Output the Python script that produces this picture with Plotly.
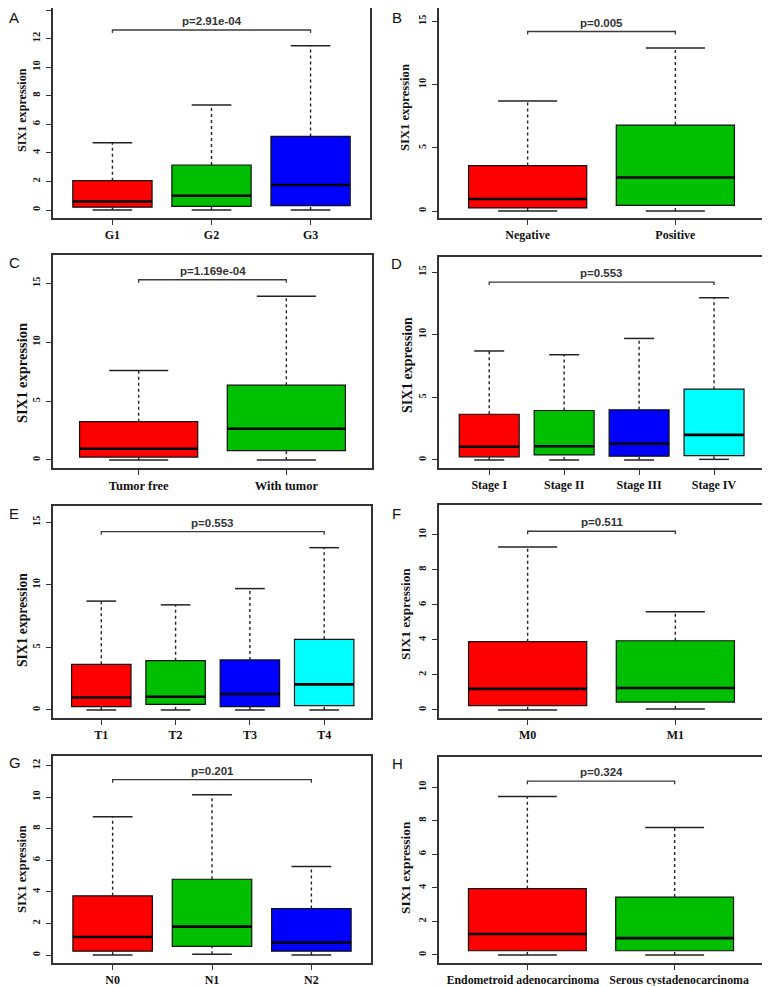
import plotly.graph_objects as go

# ---------------- data ----------------
A_cats = ["G1", "G2", "G3"]
A_lower = [0.0, 0.0, 0.0]
A_q1 = [0.2, 0.25, 0.3]
A_median = [0.6, 1.0, 1.75]
A_q3 = [2.05, 3.15, 5.15]
A_upper = [4.7, 7.35, 11.5]
A_pvalue = "p=2.91e-04"
A_bracket = 12.6
A_yticks = [0, 2, 4, 6, 8, 10, 12, 14]

B_cats = ["Negative", "Positive"]
B_lower = [0.0, 0.0]
B_q1 = [0.25, 0.45]
B_median = [0.95, 2.65]
B_q3 = [3.6, 6.8]
B_upper = [8.7, 12.9]
B_pvalue = "p=0.005"
B_bracket = 14.2
B_yticks = [0, 5, 10, 15]

C_cats = ["Tumor free", "With tumor"]
C_lower = [0.0, 0.0]
C_q1 = [0.25, 0.8]
C_median = [0.95, 2.65]
C_q3 = [3.25, 6.35]
C_upper = [7.6, 13.9]
C_pvalue = "p=1.169e-04"
C_bracket = 15.3
C_yticks = [0, 5, 10, 15]

D_cats = ["Stage I", "Stage II", "Stage III", "Stage IV"]
D_lower = [0.0, 0.0, 0.0, 0.05]
D_q1 = [0.25, 0.4, 0.3, 0.35]
D_median = [1.05, 1.1, 1.3, 2.0]
D_q3 = [3.65, 3.95, 4.0, 5.65]
D_upper = [8.7, 8.4, 9.7, 12.95]
D_pvalue = "p=0.553"
D_bracket = 14.2
D_yticks = [0, 5, 10, 15]

E_cats = ["T1", "T2", "T3", "T4"]
E_lower = [0.0, 0.0, 0.0, 0.0]
E_q1 = [0.27, 0.45, 0.27, 0.35]
E_median = [1.0, 1.06, 1.28, 2.05]
E_q3 = [3.65, 3.94, 4.0, 5.65]
E_upper = [8.7, 8.4, 9.7, 12.97]
E_pvalue = "p=0.553"
E_bracket = 14.25
E_yticks = [0, 5, 10, 15]

F_cats = ["M0", "M1"]
F_lower = [0.0, 0.05]
F_q1 = [0.25, 0.45]
F_median = [1.2, 1.25]
F_q3 = [3.9, 3.95]
F_upper = [9.3, 5.6]
F_pvalue = "p=0.511"
F_bracket = 10.2
F_yticks = [0, 2, 4, 6, 8, 10]

G_cats = ["N0", "N1", "N2"]
G_lower = [0.0, 0.05, 0.0]
G_q1 = [0.25, 0.55, 0.25]
G_median = [1.15, 1.8, 0.8]
G_q3 = [3.75, 4.8, 2.95]
G_upper = [8.75, 10.15, 5.6]
G_pvalue = "p=0.201"
G_bracket = 11.1
G_yticks = [0, 2, 4, 6, 8, 10, 12]

H_cats = ["Endometroid adenocarcinoma", "Serous cystadenocarcinoma"]
H_lower = [0.0, 0.0]
H_q1 = [0.25, 0.25]
H_median = [1.25, 1.0]
H_q3 = [3.95, 3.45]
H_upper = [9.45, 7.6]
H_pvalue = "p=0.324"
H_bracket = 10.36
H_yticks = [0, 2, 4, 6, 8, 10]

Y_TITLE = "SIX1 expression"

# ---------------- styling / layout ----------------
# The page body has an 8px default margin, so the figure is made 8px smaller
# and every reference pixel position is shifted by that offset.
PAGE_W, PAGE_H = 770, 986
OFF = 8
W, H = PAGE_W - OFF, PAGE_H - OFF
RED, GREEN, BLUE, CYAN = "#FF0000", "#00BE00", "#0000FF", "#00FFFF"

panels = [
    dict(key="A", cats=A_cats, lo=A_lower, q1=A_q1, med=A_median, q3=A_q3, up=A_upper,
         p=A_pvalue, br=A_bracket, yt=A_yticks, colors=[RED, GREEN, BLUE],
         frame=(53, 370, 8, 218), yr=[-0.56, 14.14], xr=[-0.6, 2.6],
         letter=(7, 12), title=(22, 110, 12.1)),
    dict(key="B", cats=B_cats, lo=B_lower, q1=B_q1, med=B_median, q3=B_q3, up=B_upper,
         p=B_pvalue, br=B_bracket, yt=B_yticks, colors=[RED, GREEN],
         frame=(439, 764, 8, 218), yr=[-0.55, 16.06], xr=[-0.6, 1.6],
         letter=(391, 11), title=(405, 108, 12.6)),
    dict(key="C", cats=C_cats, lo=C_lower, q1=C_q1, med=C_median, q3=C_q3, up=C_upper,
         p=C_pvalue, br=C_bracket, yt=C_yticks, colors=[RED, GREEN],
         frame=(53, 372, 255, 468), yr=[-0.68, 17.4], xr=[-0.58, 1.58],
         letter=(7, 262), title=(22, 373, 14.5)),
    dict(key="D", cats=D_cats, lo=D_lower, q1=D_q1, med=D_median, q3=D_q3, up=D_upper,
         p=D_pvalue, br=D_bracket, yt=D_yticks, colors=[RED, GREEN, BLUE, CYAN],
         frame=(439, 765, 257, 468), yr=[-0.64, 16.2], xr=[-0.67, 3.68],
         letter=(390, 263), title=(407, 365, 13.9)),
    dict(key="E", cats=E_cats, lo=E_lower, q1=E_q1, med=E_median, q3=E_q3, up=E_upper,
         p=E_pvalue, br=E_bracket, yt=E_yticks, colors=[RED, GREEN, BLUE, CYAN],
         frame=(53, 371, 506, 718), yr=[-0.64, 16.3], xr=[-0.65, 3.63],
         letter=(7, 513), title=(22, 620, 13.6)),
    dict(key="F", cats=F_cats, lo=F_lower, q1=F_q1, med=F_median, q3=F_q3, up=F_upper,
         p=F_pvalue, br=F_bracket, yt=F_yticks, colors=[RED, GREEN],
         frame=(439, 764, 505, 718), yr=[-0.46, 11.7], xr=[-0.6, 1.6],
         letter=(391, 513), title=(405, 614, 13.3)),
    dict(key="G", cats=G_cats, lo=G_lower, q1=G_q1, med=G_median, q3=G_q3, up=G_upper,
         p=G_pvalue, br=G_bracket, yt=G_yticks, colors=[RED, GREEN, BLUE],
         frame=(53, 371, 756, 963), yr=[-0.5, 12.6], xr=[-0.6, 2.6],
         letter=(7, 762), title=(22, 869, 12.7)),
    dict(key="H", cats=H_cats, lo=H_lower, q1=H_q1, med=H_median, q3=H_q3, up=H_upper,
         p=H_pvalue, br=H_bracket, yt=H_yticks, colors=[RED, GREEN],
         frame=(439, 763, 757, 963), yr=[-0.48, 11.8], xr=[-0.6, 1.6],
         letter=(391, 763), title=(405, 868, 13.4),
         pad=["\u00a0\u00a0\u00a0", ""], padl=["", "\u00a0\u00a0\u00a0"]),
]

BOX_W = 0.8
CAP_HALF = 0.2
SERIF = "Liberation Serif, Times New Roman, serif"
SANS = "Liberation Sans, Arial, sans-serif"
FRAME_COL = "#333333"
LETTER_SIZE = 15


def fx(px):
    return min(1.0, max(0.0, (px - OFF) / W))


def fy(py):
    return min(1.0, max(0.0, 1 - (py - OFF) / H))


fig = go.Figure()
annotations = []

for k, P in enumerate(panels, start=1):
    xa = "x" if k == 1 else f"x{k}"
    ya = "y" if k == 1 else f"y{k}"
    idx = list(range(len(P["cats"])))

    # whiskers (dotted)
    wx, wy = [], []
    for i in idx:
        wx += [i, i, None, i, i, None]
        wy += [P["q3"][i], P["up"][i], None, P["lo"][i], P["q1"][i], None]
    fig.add_trace(go.Scatter(x=wx, y=wy, mode="lines", xaxis=xa, yaxis=ya,
                             line=dict(color="#222222", width=1.4, dash="dot"),
                             hoverinfo="skip", showlegend=False))
    # staples
    cx, cy = [], []
    for i in idx:
        cx += [i - CAP_HALF, i + CAP_HALF, None, i - CAP_HALF, i + CAP_HALF, None]
        cy += [P["up"][i], P["up"][i], None, P["lo"][i], P["lo"][i], None]
    fig.add_trace(go.Scatter(x=cx, y=cy, mode="lines", xaxis=xa, yaxis=ya,
                             line=dict(color="#222222", width=1.5),
                             hoverinfo="skip", showlegend=False))
    # boxes
    fig.add_trace(go.Bar(x=idx, y=[P["q3"][i] - P["q1"][i] for i in idx],
                         base=P["q1"], width=BOX_W, xaxis=xa, yaxis=ya,
                         marker=dict(color=P["colors"], line=dict(color="#111111", width=1.2)),
                         hoverinfo="skip", showlegend=False))
    # medians
    mx, my = [], []
    for i in idx:
        mx += [i - BOX_W / 2, i + BOX_W / 2, None]
        my += [P["med"][i], P["med"][i], None]
    fig.add_trace(go.Scatter(x=mx, y=my, mode="lines", xaxis=xa, yaxis=ya,
                             line=dict(color="#000000", width=2.6),
                             hoverinfo="skip", showlegend=False))

    # p-value bracket
    x0f, x1f, y0f, y1f = P["frame"]
    pxu = (y1f - y0f) / (P["yr"][1] - P["yr"][0])
    d = 3.0 / pxu
    i0, i1 = idx[0], idx[-1]
    fig.add_trace(go.Scatter(x=[i0, i0, i1, i1], y=[P["br"] - d, P["br"], P["br"], P["br"] - d],
                             mode="lines", xaxis=xa, yaxis=ya,
                             line=dict(color="#3a3a3a", width=1.3),
                             hoverinfo="skip", showlegend=False))
    annotations.append(dict(x=(i0 + i1) / 2, y=P["br"], xref=xa, yref=ya,
                            text=f"<b>{P['p']}</b>", showarrow=False,
                            xanchor="center", yanchor="bottom", yshift=1,
                            font=dict(family=SANS, size=11.5, color="#333333")))

    # axes
    ttext = list(P["cats"])
    if "pad" in P:
        ttext = [P["padl"][i] + t + P["pad"][i] for i, t in enumerate(ttext)]
    xfs = 12.5 if P["key"] == "C" else (11.8 if P["key"] == "H" else 12)
    layout_x = dict(domain=[fx(x0f), fx(x1f)], range=P["xr"], anchor=ya, automargin=False,
                    tickmode="array", tickvals=idx, ticktext=ttext, tickangle=0,
                    showgrid=False, zeroline=False, showline=True, mirror=True,
                    linecolor=FRAME_COL, linewidth=1.5, ticks="outside",
                    ticklen=5, tickwidth=1.2, tickcolor=FRAME_COL,
                    tickfont=dict(family=SERIF, size=xfs, color="#111111", weight="bold"))
    layout_y = dict(domain=[fy(y1f), fy(y0f)], range=P["yr"], anchor=xa, automargin=False,
                    tickmode="array", tickvals=P["yt"], tickangle=-90,
                    showgrid=False, zeroline=False, showline=True, mirror=True,
                    linecolor=FRAME_COL, linewidth=1.5, ticks="outside",
                    ticklen=5, tickwidth=1.2, tickcolor=FRAME_COL,
                    ticklabelstandoff=2,
                    tickfont=dict(family=SERIF, size=10.5, color="#111111", weight="bold"))
    fig.update_layout(**{("xaxis" if k == 1 else f"xaxis{k}"): layout_x,
                         ("yaxis" if k == 1 else f"yaxis{k}"): layout_y})

    # letter (left edge; top-anchored near the page top) and y title
    lx, ly = P["letter"]
    box_half = LETTER_SIZE * 0.6
    if ly - OFF < box_half:
        ypos, yanc = 1.0, "top"
    else:
        ypos, yanc = fy(ly), "middle"
    annotations.append(dict(x=fx(max(lx, OFF)), y=ypos, xref="paper", yref="paper",
                            text=P["key"], showarrow=False, xanchor="left", yanchor=yanc,
                            borderpad=0,
                            font=dict(family=SANS, size=LETTER_SIZE, color="#111111")))
    tx, ty, ts = P["title"]
    annotations.append(dict(x=fx(tx), y=fy(ty), xref="paper", yref="paper",
                            text=f"<b>{Y_TITLE}</b>", showarrow=False, textangle=-90,
                            xanchor="center", yanchor="middle",
                            font=dict(family=SERIF, size=ts, color="#111111")))

fig.update_layout(width=W, height=H, margin=dict(l=0, r=0, t=0, b=0, autoexpand=False),
                  paper_bgcolor="white", plot_bgcolor="white",
                  barmode="overlay", showlegend=False, annotations=annotations)

fig.write_html("out.html")
